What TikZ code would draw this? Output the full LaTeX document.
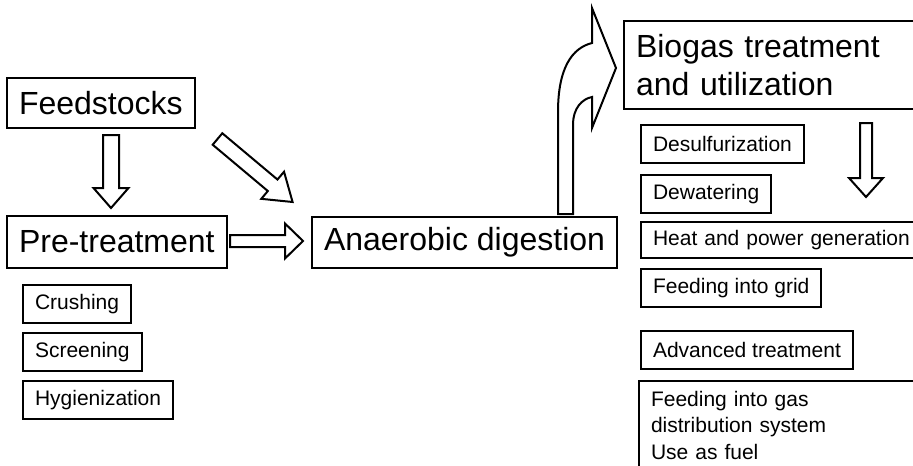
\documentclass[tikz,border=0pt]{standalone}
\usepackage{fontspec}
\setmainfont{Liberation Sans}
\usetikzlibrary{positioning, calc}

\begin{document}
\begin{tikzpicture}[
      x=0.5pt, y=-0.5pt,
      bigbox/.style={draw, line width=1pt, font=\fontsize{16}{19}\selectfont, anchor=north west, inner xsep=6pt, inner ysep=0pt, align=left},
      smallbox/.style={draw, line width=1pt, font=\fontsize{10.5}{13.2}\selectfont, anchor=north west, inner xsep=6pt, inner ysep=0pt, minimum height=19pt, align=left},
      arrowline/.style={draw, line width=1pt, fill=white, line join=miter},
      pics/hollowarrow/.style n args={4}{code={
        \path[arrowline] (0,-#2) -- (#1-#4,-#2) -- (#1-#4,-#3) -- (#1,0) -- (#1-#4,#3) -- (#1-#4,#2) -- (0,#2) -- cycle;
      }},
    ]
    \useasboundingbox (0,0) rectangle (913,465);
    \clip (0,0) rectangle (913,465);

    % Input side
    \node[bigbox, minimum height=25pt] (feed) at (6,77) {Feedstocks};
    \node[bigbox, minimum height=26pt] (pre) at (6,215) {Pre-treatment};
    \node[smallbox] (crush) at (22,284) {Crushing};
    \node[smallbox] (screen) at (22,332) {Screening};
    \node[smallbox] (hyg) at (22,380) {Hygienization};

    % Digester
    \node[bigbox, minimum height=25.5pt] (ad) at (311,216) {Anaerobic digestion};

    % Biogas side (boxes run past the right edge)
    \node[bigbox, minimum height=44pt, text width=170pt] (biogas) at (623,20) {Biogas treatment\\and utilization};
    \node[smallbox] (desulf) at (640,124) {Desulfurization};
    \node[smallbox] (dewat) at (640,174) {Dewatering};
    \node[smallbox, minimum height=18pt, text width=132pt] (heat) at (640,221) {Heat and power generation};
    \node[smallbox] (grid) at (640,268) {Feeding into grid};
    \node[smallbox] (adv) at (640,330) {Advanced treatment};
    \node[smallbox, inner ysep=5pt, text width=170pt] (gasdist) at (638,380)
      {Feeding into gas\\distribution system\\Use as fuel};

    % Hollow arrows
    \pic[rotate=-90] (feedpre) at (111,135) {hollowarrow={73}{8}{17.5}{20}};
    \pic (pread) at (230,241) {hollowarrow={73}{6}{17.5}{18}};
    \pic[rotate=-40] (feedad) at (217.5,139) {hollowarrow={98}{7.5}{17.7}{26}};
    \pic[rotate=-90] (biodown) at (866,123) {hollowarrow={74}{6}{17}{19}};

    % Bent arrow up to biogas
    \path[arrowline] (558,214) -- (558,112) .. controls (558,68) and (572,48) .. (592,43)
      -- (592,8) -- (616,68) -- (592,128) -- (592,97)
      .. controls (582,99) and (573,108) .. (573,125) -- (573,214) -- cycle;
  \end{tikzpicture}
\end{document}
